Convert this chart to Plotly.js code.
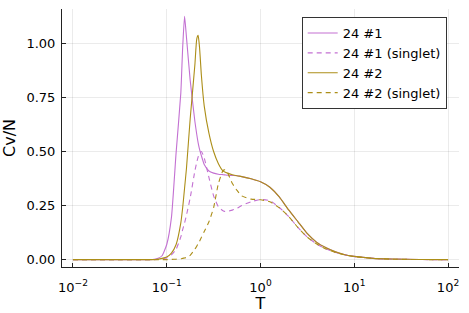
<!DOCTYPE html>
<html><head><meta charset="utf-8">
<script src="https://cdn.plot.ly/plotly-3.0.1.min.js"></script>
<style>html,body{margin:0;padding:0;background:#fff;}#chart{width:469px;height:313px;}</style>
</head><body><div id="chart"></div>
<script>
// Temperature grid
const T = [0.01, 0.0316, 0.0501, 0.0631, 0.0708, 0.0794, 0.0891, 0.1, 0.1122, 0.1259,
  0.1413, 0.1479, 0.1549, 0.1622, 0.1778, 0.1995, 0.2089, 0.2163, 0.2239, 0.2344,
  0.2512, 0.2818, 0.3162, 0.3548, 0.3981, 0.4169, 0.4467, 0.5012, 0.5623, 0.6310,
  0.7943, 1.0, 1.2589, 1.5849, 1.9953, 2.5119, 3.1623, 3.9811, 5.0119, 6.3096,
  7.9433, 10, 15.85, 25.12, 50.12, 100];

// 24 #1
const cv1 = [0, 0, 0, 0, 0.001, 0.005, 0.018, 0.07, 0.194, 0.495,
  0.77, 0.98, 1.125, 1.03, 0.83, 0.64, 0.58, 0.54, 0.51, 0.48,
  0.44, 0.41, 0.40, 0.395, 0.393, 0.392, 0.39, 0.389, 0.388, 0.384,
  0.374, 0.36, 0.335, 0.29, 0.23, 0.175, 0.12, 0.08, 0.055, 0.036,
  0.023, 0.015, 0.006, 0.003, 0.001, 0];

// 24 #1 (singlet)
const cv1s = [0, 0, 0, 0, 0, 0.001, 0.004, 0.008, 0.022, 0.048,
  0.105, 0.139, 0.17, 0.205, 0.285, 0.41, 0.45, 0.475, 0.493, 0.50,
  0.47, 0.38, 0.295, 0.245, 0.226, 0.223, 0.224, 0.229, 0.238, 0.25,
  0.268, 0.278, 0.273, 0.241, 0.2, 0.148, 0.104, 0.072, 0.049, 0.033,
  0.022, 0.014, 0.006, 0.002, 0.0005, 0];

// 24 #2
const cv2 = [0, 0, 0, 0, 0, 0.002, 0.006, 0.012, 0.03, 0.07,
  0.17, 0.24, 0.33, 0.42, 0.65, 0.90, 1.02, 1.037, 0.98, 0.85,
  0.71, 0.585, 0.50, 0.445, 0.41, 0.405, 0.40, 0.393, 0.388, 0.384,
  0.374, 0.36, 0.335, 0.29, 0.23, 0.175, 0.12, 0.08, 0.055, 0.036,
  0.023, 0.015, 0.006, 0.003, 0.001, 0];

// 24 #2 (singlet)
const cv2s = [0, 0, 0, 0, 0, 0, 0, 0, 0.001, 0.002,
  0.004, 0.006, 0.008, 0.01, 0.02, 0.048, 0.062, 0.074, 0.085, 0.103,
  0.13, 0.175, 0.24, 0.35, 0.412, 0.415, 0.40, 0.352, 0.32, 0.295,
  0.28, 0.277, 0.268, 0.24, 0.2, 0.148, 0.104, 0.072, 0.049, 0.033,
  0.022, 0.014, 0.006, 0.002, 0.0005, 0];

const seriesNames = ["24 #1", "24 #1 (singlet)", "24 #2", "24 #2 (singlet)"];
const xTickVals = [0.01, 0.1, 1, 10, 100];
const xTickText = ["10<sup>−2</sup>", "10<sup>−1</sup>", "10<sup>0</sup>", "10<sup>1</sup>", "10<sup>2</sup>"];
const yTickVals = [0, 0.25, 0.5, 0.75, 1.0];
const yTickText = ["0.00", "0.25", "0.50", "0.75", "1.00"];

const purple = "#C371D2", gold = "#AC8E18";
const mk = (y, name, color, dash) => ({
  x: T, y: y, name: name, type: "scatter", mode: "lines",
  line: {color: color, width: 1.1, dash: dash, shape: "spline", smoothing: 0.5}
});
const data = [
  mk(cv1, seriesNames[0], purple, "solid"),
  mk(cv1s, seriesNames[1], purple, "5px,4px"),
  mk(cv2, seriesNames[2], gold, "solid"),
  mk(cv2s, seriesNames[3], gold, "5px,4px")
];
const font = {family: "DejaVu Sans, sans-serif", color: "#000"};
const layout = {
  width: 469, height: 313,
  margin: {l: 62, r: 10, t: 9, b: 46, pad: 0},
  paper_bgcolor: "#fff", plot_bgcolor: "#fff",
  font: Object.assign({size: 13}, font),
  showlegend: true,
  legend: {x: 0.969, y: 0.969, xanchor: "right", yanchor: "top",
    bordercolor: "#333", borderwidth: 1, bgcolor: "#fff",
    font: Object.assign({size: 13}, font)},
  xaxis: {type: "log", range: [-2.117, 2.117], tickvals: xTickVals, ticktext: xTickText,
    showgrid: true, gridcolor: "rgba(0,0,0,0.08)", gridwidth: 1, zeroline: false,
    showline: true, linecolor: "#222", linewidth: 1, mirror: false,
    ticks: "inside", ticklen: 4, tickcolor: "#222", automargin: false,
    ticklabelstandoff: 8,
    tickfont: Object.assign({size: 13}, font),
    title: {text: "T", font: Object.assign({size: 16}, font), standoff: 2}},
  yaxis: {range: [-0.034, 1.159], tickvals: yTickVals, ticktext: yTickText,
    showgrid: true, gridcolor: "rgba(0,0,0,0.08)", gridwidth: 1, zeroline: false,
    showline: true, linecolor: "#222", linewidth: 1, mirror: false,
    ticks: "inside", ticklen: 4, tickcolor: "#222", automargin: false,
    ticklabelstandoff: 3,
    tickfont: Object.assign({size: 13}, font),
    title: {text: "Cv/N", font: Object.assign({size: 16}, font), standoff: 6}}
};
Plotly.newPlot("chart", data, layout, {displayModeBar: false, staticPlot: true});
</script>
</body></html>
